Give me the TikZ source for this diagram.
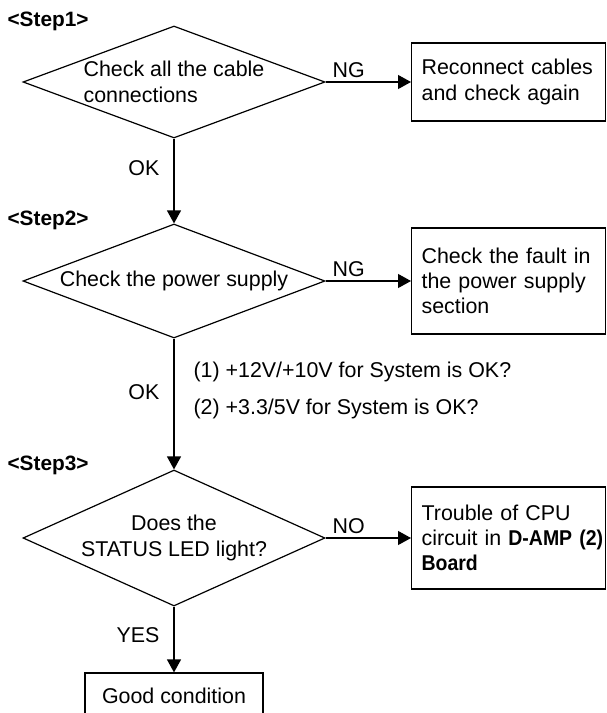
\documentclass[tikz,border=0pt]{standalone}
\usepackage{fontspec}
\setmainfont{Liberation Sans}
\usetikzlibrary{arrows.meta, shapes.geometric}

\begin{document}
\begin{tikzpicture}[x=0.5pt, y=-0.5pt, >={Triangle[length=6.5pt, width=7pt]},
  line width=0.6pt, font=\fontsize{10.7}{13}\selectfont,
  decision/.style={draw, diamond, inner sep=0pt, minimum width=151pt},
  outcome/.style={draw, rectangle, anchor=west, align=left, text width=87pt,
    inner xsep=5pt, inner ysep=0pt, font=\fontsize{10.7}{12.6}\selectfont},
  steplabel/.style={anchor=west, inner sep=0pt,
    font=\fontsize{10.4}{12}\selectfont\bfseries},
  answer/.style={inner sep=0pt}]

\useasboundingbox (0,0) rectangle (606,713);
\clip (0,0) rectangle (606,713);

%-- step headings
\node[steplabel] (s1) at (7,21)  {<Step1>};
\node[steplabel] (s2) at (7,220) {<Step2>};
\node[steplabel] (s3) at (7,465) {<Step3>};

%-- decisions, centre column at x=174
\node[decision, minimum height=56pt, shape aspect=2.7, align=left]
  (d1) at (174,82) {Check all the cable\\connections};
\node[decision, minimum height=57pt, shape aspect=2.65]
  (d2) at (174,281) {Check the power supply};
\node[decision, minimum height=68pt, shape aspect=2.2, align=center]
  (d3) at (174,538) {Does the\\STATUS LED light?};

%-- results on the right
\node[outcome, minimum height=39pt] (r1) at (411,82)
  {Reconnect cables\\and check again};
\node[outcome, minimum height=53pt] (r2) at (411,281)
  {Check the fault in\\the power supply\\section};
\node[outcome, minimum height=51pt] (r3) at (411,538)
  {Trouble of CPU\\
   \mbox{circuit in {\bfseries\addfontfeature{FakeStretch=0.91}D-AMP (2)}}\\
   {\bfseries\addfontfeature{FakeStretch=0.91}Board}};

\node[draw, minimum width=89pt, minimum height=23pt] (good) at (174,696)
  {Good condition};

%-- voltage checks
\node[answer, anchor=west] (c1) at (193,372) {(1) +12V/+10V for System is OK?};
\node[answer, anchor=west] (c2) at (193,409) {(2) +3.3/5V for System is OK?};

%-- connectors
\draw[->] (d1.east) -- node[answer, above=2pt, pos=0.27] {NG} (r1.west);
\draw[->] (d2.east) -- node[answer, above=2pt, pos=0.27] {NG} (r2.west);
\draw[->] (d3.east) -- node[answer, above=2pt, pos=0.27] {NO} (r3.west);

\draw[->] (d1.south) -- node[answer, left=7pt, pos=0.35] {OK}  (d2.north);
\draw[->] (d2.south) -- node[answer, left=7pt, pos=0.41] {OK}  (d3.north);
\draw[->] (d3.south) -- node[answer, left=7pt, pos=0.44] {YES} (good.north);

\end{tikzpicture}
\end{document}
